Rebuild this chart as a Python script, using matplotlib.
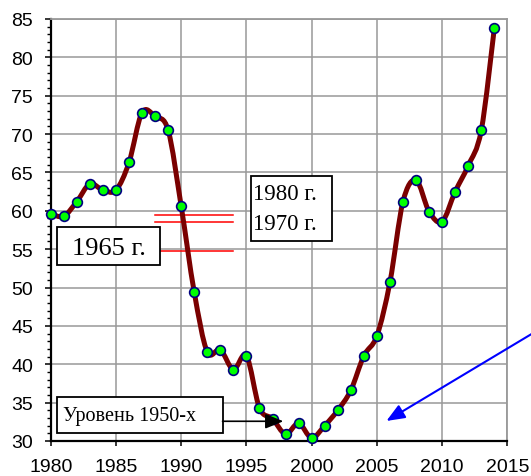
# Smoothed yearly series 1980-2014 with reference levels and notes

import numpy as np
import matplotlib.pyplot as plt
from matplotlib.path import Path
from matplotlib.patches import PathPatch, Rectangle

years = list(range(1980, 2015))
values = [
    59.6, 59.3, 61.2, 63.5, 62.7, 62.7, 66.3, 72.8, 72.3, 70.5,
    60.6, 49.4, 41.6, 41.9, 39.3, 41.1, 34.3, 32.9, 30.9, 32.3,
    30.4, 32.0, 34.0, 36.6, 41.1, 43.7, 50.7, 61.2, 64.0, 59.9,
    58.6, 62.5, 65.9, 70.5, 83.8,
]

# reference levels (red lines): 1980, 1970, 1965
ref_levels = [59.45, 58.6, 54.8]
ref_span = [1988.0, 1994.0]

note_labels = ["1980 г.", "1970 г.", "1965 г.", "Уровень 1950-х"]


def smooth_path(x, y):
    # Catmull-Rom through the points, as cubic Bezier segments
    pts = np.column_stack([x, y]).astype(float)
    ext = np.vstack([pts[0], pts, pts[-1]])
    verts = [pts[0]]
    codes = [Path.MOVETO]
    for i in range(1, len(ext) - 2):
        p0, p1, p2, p3 = ext[i - 1], ext[i], ext[i + 1], ext[i + 2]
        verts += [p1 + (p2 - p0) / 6, p2 - (p3 - p1) / 6, p2]
        codes += [Path.CURVE4] * 3
    return Path(verts, codes)


def note_box(ax, x0, x1, y0, y1):
    ax.add_patch(Rectangle((x0, y0), x1 - x0, y1 - y0, fc="white",
                           ec="black", lw=1.3, zorder=5, clip_on=False))


def main():
    fig = plt.figure(figsize=(5.31, 4.77), dpi=100)
    ax = fig.add_axes([0.0955, 0.0734, 0.86, 0.8847])

    ax.add_patch(PathPatch(smooth_path(years, values), fill=False,
                           edgecolor="#7a0000", lw=3.6, zorder=3,
                           capstyle="round", joinstyle="round",
                           clip_on=False))
    ax.plot(years, values, "o", ms=7, mfc="#00ff00", mec="#000080",
            mew=1.2, zorder=4, clip_on=False)

    for lev in ref_levels:
        ax.plot(ref_span, [lev, lev], color="#ff0000", lw=1.1, zorder=2)

    serif = "Liberation Serif"
    note_box(ax, 1995.37, 2001.57, 56.03, 64.50)
    ax.text(1995.53, 61.54, note_labels[0], ha="left", va="baseline",
            family=serif, fontsize=16.5, zorder=6)
    ax.text(1995.53, 57.63, note_labels[1], ha="left", va="baseline",
            family=serif, fontsize=16.5, zorder=6)

    note_box(ax, 1980.48, 1988.39, 52.94, 57.89)
    ax.text(1981.63, 54.37, note_labels[2], ha="left", va="baseline",
            family=serif, fontsize=19, zorder=6)

    note_box(ax, 1980.51, 1993.17, 31.01, 35.70)
    ax.text(1980.92, 32.78, note_labels[3], ha="left", va="baseline",
            family=serif, fontsize=14.5, zorder=6)

    ax.annotate("", xy=(1997.83, 32.57), xytext=(1993.17, 32.57),
                arrowprops=dict(arrowstyle="-|>,head_length=1.1,head_width=0.45",
                                color="black", lw=1.2, shrinkA=0, shrinkB=0),
                zorder=6)
    ax.annotate("", xy=(2005.73, 32.61), xytext=(2016.86, 43.95),
                arrowprops=dict(arrowstyle="-|>,head_length=1.1,head_width=0.45",
                                color="#0000ff", lw=1.5, shrinkA=0, shrinkB=0),
                annotation_clip=False, zorder=6)

    ax.set_xlim(1980, 2015)
    ax.set_ylim(30, 85)
    ax.set_xticks(range(1980, 2016, 5))
    ax.set_yticks(range(30, 86, 5))
    ax.set_yticks(range(30, 86, 1), minor=True)
    ax.grid(True, which="major", color="#999999", lw=1.1, zorder=0)
    ax.set_axisbelow(True)

    for side in ["top", "right"]:
        ax.spines[side].set_color("#999999")
        ax.spines[side].set_linewidth(1.3)
    for side in ["left", "bottom"]:
        ax.spines[side].set_color("black")
        ax.spines[side].set_linewidth(1.6)

    ax.tick_params(axis="x", which="major", direction="out", length=3.6,
                   width=1.1, labelsize=14, pad=9)
    ax.tick_params(axis="y", which="major", direction="out", length=4.3,
                   width=1.1, labelsize=14, pad=8.4)
    ax.tick_params(axis="y", which="minor", direction="out", length=2.9,
                   width=1.0)
    for lab in ax.get_xticklabels() + ax.get_yticklabels():
        lab.set_family("Liberation Sans")

    fig.savefig("out.png", dpi=100)


if __name__ == "__main__":
    main()
